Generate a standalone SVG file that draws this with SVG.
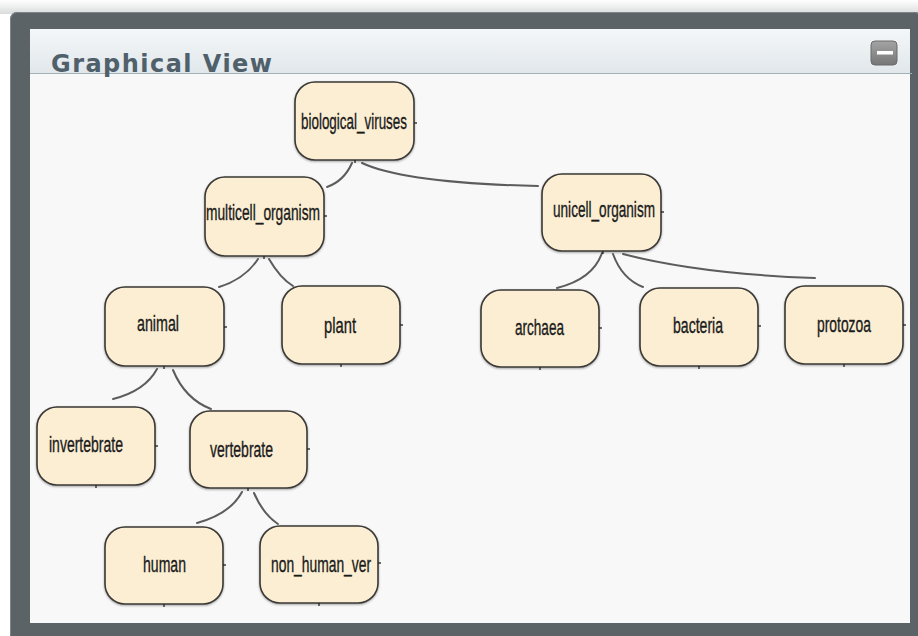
<svg xmlns="http://www.w3.org/2000/svg" width="918" height="636" viewBox="0 0 918 636">
<defs>
<linearGradient id="topband" x1="0" y1="0" x2="0" y2="1">
<stop offset="0" stop-color="#ffffff"/>
<stop offset="1" stop-color="#d9dbdc"/>
</linearGradient>
<linearGradient id="hdr" x1="0" y1="0" x2="0" y2="1">
<stop offset="0" stop-color="#f4f7f9"/>
<stop offset="1" stop-color="#e1e7eb"/>
</linearGradient>
<linearGradient id="btn" x1="0" y1="0" x2="0" y2="1">
<stop offset="0" stop-color="#a4a4a4"/>
<stop offset="1" stop-color="#767676"/>
</linearGradient>
<filter id="sh" x="-10%" y="-10%" width="120%" height="125%">
<feGaussianBlur in="SourceAlpha" stdDeviation="1"/>
<feOffset dx="0" dy="1" result="b"/>
<feComponentTransfer><feFuncA type="linear" slope="0.35"/></feComponentTransfer>
<feMerge><feMergeNode/><feMergeNode in="SourceGraphic"/></feMerge>
</filter>
</defs>
<style>
.node rect.box { fill:#fbeed3; stroke:#3a3836; stroke-width:1.6; }
.node text { font-family:"Liberation Sans","Arial",sans-serif; font-size:22px; fill:#1a1a1a; stroke:#1a1a1a; stroke-width:0.35; text-anchor:middle; }
.tick { stroke:#222; stroke-width:1.3; }
#connectors path { fill:none; stroke:#5c5c5c; stroke-width:2; stroke-linecap:round; }
.title { font-family:"DejaVu Sans","Verdana",sans-serif; font-size:24px; font-weight:bold; fill:#4f606b; }
</style>

<!-- frame -->
<rect x="0" y="0" width="918" height="636" fill="#ffffff"/>
<rect x="0" y="0" width="918" height="14" fill="url(#topband)"/>
<rect x="10" y="12" width="912" height="630" rx="7" fill="#5b6367"/>
<rect x="10.5" y="12.5" width="911" height="629" rx="7" fill="none" stroke="#7d8589" stroke-width="1"/>
<rect x="30" y="29" width="880" height="594" fill="#f8f8f8"/>
<rect x="30" y="29" width="880" height="44" fill="url(#hdr)"/>
<line x1="30" y1="73.5" x2="912" y2="73.5" stroke="#a1b1ba" stroke-width="1.2"/>
<text class="title" x="51" y="72" textLength="221">Graphical View</text>
<g id="minimize">
<rect x="871" y="41" width="26" height="24" rx="4" fill="url(#btn)" stroke="#6a6a6a" stroke-width="1"/>
<rect x="877" y="51" width="16" height="3.5" fill="#ffffff"/>
</g>

<g id="connectors">
<path d="M352,163 Q344,181 327,187"/>
<path d="M362,163 Q405,183 538,186"/>
<path d="M258,259 Q245,279 219,287"/>
<path d="M269,259 Q280,278 293,286"/>
<path d="M602,253 Q593,279 557,288"/>
<path d="M613,254 Q622,279 643,287"/>
<path d="M623,254 Q700,274 815,278"/>
<path d="M157,369 Q145,391 113,399"/>
<path d="M173,370 Q185,399 211,409"/>
<path d="M242,492 Q230,514 197,523"/>
<path d="M254,493 Q263,514 278,524"/>
</g>

<g id="n-biological_viruses" class="node">
<rect class="box" x="295" y="82" width="119" height="78" rx="20" filter="url(#sh)"/>
<line class="tick" x1="414" y1="123" x2="417" y2="123"/>
<line class="tick" x1="355" y1="160" x2="355" y2="163"/>
<text x="354" y="129" textLength="106" lengthAdjust="spacingAndGlyphs">biological_viruses</text>
</g>
<g id="n-multicell_organism" class="node">
<rect class="box" x="205" y="177" width="119" height="79" rx="20" filter="url(#sh)"/>
<line class="tick" x1="324" y1="216" x2="327" y2="216"/>
<line class="tick" x1="264" y1="256" x2="264" y2="259"/>
<text x="263" y="220" textLength="114" lengthAdjust="spacingAndGlyphs">multicell_organism</text>
</g>
<g id="n-unicell_organism" class="node">
<rect class="box" x="542" y="174" width="119" height="77" rx="20" filter="url(#sh)"/>
<line class="tick" x1="661" y1="212" x2="664" y2="212"/>
<line class="tick" x1="603" y1="251" x2="603" y2="254"/>
<text x="604" y="217" textLength="102" lengthAdjust="spacingAndGlyphs">unicell_organism</text>
</g>
<g id="n-animal" class="node">
<rect class="box" x="105" y="287" width="119" height="79" rx="20" filter="url(#sh)"/>
<line class="tick" x1="224" y1="327" x2="227" y2="327"/>
<line class="tick" x1="164" y1="366" x2="164" y2="369"/>
<text x="158" y="331" textLength="42" lengthAdjust="spacingAndGlyphs">animal</text>
</g>
<g id="n-plant" class="node">
<rect class="box" x="282" y="286" width="118" height="78" rx="20" filter="url(#sh)"/>
<line class="tick" x1="400" y1="325" x2="403" y2="325"/>
<line class="tick" x1="341" y1="364" x2="341" y2="367"/>
<text x="340" y="333" textLength="32" lengthAdjust="spacingAndGlyphs">plant</text>
</g>
<g id="n-archaea" class="node">
<rect class="box" x="481" y="290" width="118" height="77" rx="20" filter="url(#sh)"/>
<line class="tick" x1="599" y1="328" x2="602" y2="328"/>
<line class="tick" x1="540" y1="367" x2="540" y2="370"/>
<text x="539.5" y="335" textLength="49" lengthAdjust="spacingAndGlyphs">archaea</text>
</g>
<g id="n-bacteria" class="node">
<rect class="box" x="640" y="288" width="118" height="78" rx="20" filter="url(#sh)"/>
<line class="tick" x1="758" y1="326" x2="761" y2="326"/>
<line class="tick" x1="699" y1="366" x2="699" y2="369"/>
<text x="698" y="333" textLength="50" lengthAdjust="spacingAndGlyphs">bacteria</text>
</g>
<g id="n-protozoa" class="node">
<rect class="box" x="785" y="286" width="118" height="78" rx="20" filter="url(#sh)"/>
<line class="tick" x1="903" y1="325" x2="906" y2="325"/>
<line class="tick" x1="844" y1="364" x2="844" y2="367"/>
<text x="844" y="332" textLength="54" lengthAdjust="spacingAndGlyphs">protozoa</text>
</g>
<g id="n-invertebrate" class="node">
<rect class="box" x="37" y="407" width="118" height="78" rx="20" filter="url(#sh)"/>
<line class="tick" x1="155" y1="446" x2="158" y2="446"/>
<line class="tick" x1="96" y1="485" x2="96" y2="488"/>
<text x="86" y="452" textLength="74" lengthAdjust="spacingAndGlyphs">invertebrate</text>
</g>
<g id="n-vertebrate" class="node">
<rect class="box" x="190" y="411" width="117" height="77" rx="20" filter="url(#sh)"/>
<line class="tick" x1="307" y1="449" x2="310" y2="449"/>
<line class="tick" x1="248" y1="488" x2="248" y2="491"/>
<text x="241.5" y="457" textLength="63" lengthAdjust="spacingAndGlyphs">vertebrate</text>
</g>
<g id="n-human" class="node">
<rect class="box" x="105" y="527" width="118" height="77" rx="20" filter="url(#sh)"/>
<line class="tick" x1="223" y1="565" x2="226" y2="565"/>
<line class="tick" x1="164" y1="604" x2="164" y2="607"/>
<text x="164.5" y="572" textLength="43" lengthAdjust="spacingAndGlyphs">human</text>
</g>
<g id="n-non_human_ver" class="node">
<rect class="box" x="260" y="526" width="118" height="77" rx="20" filter="url(#sh)"/>
<line class="tick" x1="378" y1="563" x2="381" y2="563"/>
<line class="tick" x1="319" y1="603" x2="319" y2="606"/>
<text x="321" y="572" textLength="100" lengthAdjust="spacingAndGlyphs">non_human_ver</text>
</g>
</svg>
